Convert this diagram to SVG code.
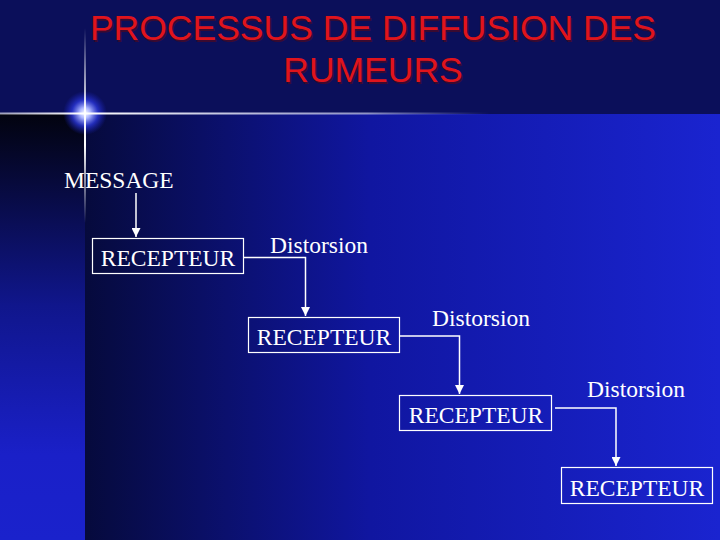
<svg xmlns="http://www.w3.org/2000/svg" width="720" height="540" viewBox="0 0 720 540">
<defs>
<linearGradient id="main" x1="0" y1="0" x2="1" y2="0">
<stop offset="0" stop-color="#060a3c"/>
<stop offset="0.45" stop-color="#1016a0"/>
<stop offset="1" stop-color="#1a24d0"/>
</linearGradient>
<linearGradient id="strip" x1="0" y1="0" x2="0" y2="1">
<stop offset="0" stop-color="#02030f"/>
<stop offset="0.45" stop-color="#10168c"/>
<stop offset="0.8" stop-color="#1a20c8"/>
<stop offset="1" stop-color="#1a22cc"/>
</linearGradient>
<linearGradient id="hline" x1="0" y1="0" x2="1" y2="0">
<stop offset="0" stop-color="#ffffff" stop-opacity="0.6"/>
<stop offset="0.17" stop-color="#ffffff" stop-opacity="1"/>
<stop offset="0.75" stop-color="#c8ccf0" stop-opacity="0.7"/>
<stop offset="1" stop-color="#8088e0" stop-opacity="0"/>
</linearGradient>
<linearGradient id="vline" x1="0" y1="0" x2="0" y2="1">
<stop offset="0" stop-color="#ffffff" stop-opacity="0"/>
<stop offset="0.4" stop-color="#ffffff" stop-opacity="0.9"/>
<stop offset="0.6" stop-color="#ffffff" stop-opacity="1"/>
<stop offset="1" stop-color="#ffffff" stop-opacity="0"/>
</linearGradient>
<radialGradient id="glow">
<stop offset="0" stop-color="#ffffff"/>
<stop offset="0.25" stop-color="#aab4ff"/>
<stop offset="0.6" stop-color="#2a36d8" stop-opacity="0.8"/>
<stop offset="1" stop-color="#1a22c0" stop-opacity="0"/>
</radialGradient>
<marker id="ah" viewBox="0 0 8 8" refX="8" refY="4" markerWidth="9" markerHeight="9" orient="auto" markerUnits="userSpaceOnUse">
<path d="M0,0 L8,4 L0,8 z" fill="#ffffff"/>
</marker>
</defs>
<style>
.t{font-family:"Liberation Serif","Times New Roman",serif;font-size:23.5px;fill:#ffffff}
.box{fill:none;stroke:#ffffff;stroke-width:1.2}
.c{fill:none;stroke:#ffffff;stroke-width:1.5}
.title{font-family:"Liberation Sans",Arial,sans-serif;font-size:35.5px;text-anchor:middle}
.ts{fill:#3a0a30}
.tf{fill:#e0141c}
</style>
<rect x="0" y="0" width="720" height="540" fill="#0b0f5a"/>
<rect x="84" y="114" width="636" height="426" fill="url(#main)"/>
<rect x="0" y="114" width="85" height="426" fill="url(#strip)"/>
<circle cx="85" cy="113" r="22" fill="url(#glow)"/>
<rect x="0" y="112.5" width="490" height="2" fill="url(#hline)"/>
<rect x="84" y="28" width="2" height="195" fill="url(#vline)"/>
<g id="title">
<text class="title ts" x="374.5" y="41.5">PROCESSUS DE DIFFUSION DES</text>
<text class="title ts" x="374.5" y="83.5">RUMEURS</text>
<text class="title tf" x="373" y="40">PROCESSUS DE DIFFUSION DES</text>
<text class="title tf" x="373" y="82">RUMEURS</text>
</g>
<g id="message"><text class="t" x="64" y="188">MESSAGE</text></g>
<g id="r1"><rect class="box" x="92.5" y="238.5" width="151" height="35"/><text class="t" x="168" y="266" text-anchor="middle">RECEPTEUR</text></g>
<g id="d1"><text class="t" x="270" y="253">Distorsion</text></g>
<g id="r2"><rect class="box" x="248.5" y="317.5" width="151" height="35"/><text class="t" x="324" y="345" text-anchor="middle">RECEPTEUR</text></g>
<g id="d2"><text class="t" x="432" y="326">Distorsion</text></g>
<g id="r3"><rect class="box" x="399.5" y="395.5" width="152" height="35"/><text class="t" x="476" y="423" text-anchor="middle">RECEPTEUR</text></g>
<g id="d3"><text class="t" x="587" y="397">Distorsion</text></g>
<g id="r4"><rect class="box" x="561.5" y="467.5" width="151" height="36"/><text class="t" x="637" y="496" text-anchor="middle">RECEPTEUR</text></g>
<g id="connectors">
<path class="c" d="M136,193 V237" marker-end="url(#ah)"/>
<path class="c" d="M244,257.5 H305.5 V316" marker-end="url(#ah)"/>
<path class="c" d="M400,336 H459.5 V394" marker-end="url(#ah)"/>
<path class="c" d="M555,408 H616 V466" marker-end="url(#ah)"/>
</g>
</svg>
